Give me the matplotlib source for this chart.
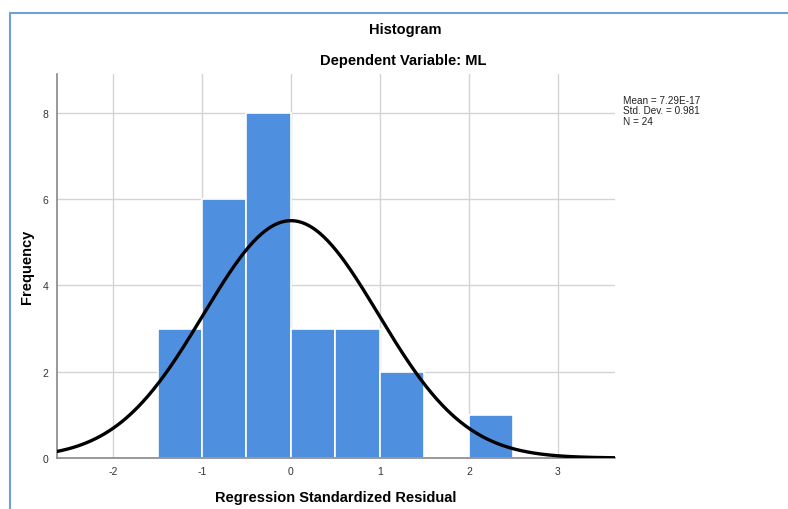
import numpy as np
from matplotlib import pyplot as plt
from matplotlib.patches import Rectangle

# bins of the standardized residuals and their counts
bin_edges = [-1.5, -1.0, -0.5, 0.0, 0.5, 1.0, 1.5, 2.0, 2.5]
counts = [3, 6, 8, 3, 3, 2, 0, 1]

mean = 7.29e-17
std_dev = 0.981
n = 24
curve_peak = 5.5  # height of the normal curve

x_ticks = [-2, -1, 0, 1, 2, 3]
y_ticks = [0, 2, 4, 6, 8]

plt.rcParams['font.family'] = ['Liberation Sans', 'DejaVu Sans']

fig = plt.figure(figsize=(7.88, 5.10), dpi=100)
ax = fig.add_axes([0.0723, 0.1, 0.708, 0.753])

# histogram bars
lefts = bin_edges[:-1]
widths = np.diff(bin_edges)
ax.bar(lefts, counts, width=widths, align='edge', color='#4f8fe0',
       edgecolor='white', linewidth=1.2, zorder=2)

# normal curve
xs = np.linspace(-2.65, 3.65, 400)
ys = curve_peak * np.exp(-0.5 * ((xs - mean) / std_dev) ** 2)
ax.plot(xs, ys, color='black', linewidth=2.4, zorder=3)

ax.set_xlim(-2.63, 3.64)
ax.set_ylim(0, 8.9)
ax.set_xticks(x_ticks)
ax.set_yticks(y_ticks)
ax.set_xticklabels([str(t) for t in x_ticks])
ax.grid(True, color='#d4d4d4', linewidth=1, zorder=0)
ax.set_axisbelow(True)
ax.tick_params(axis='both', length=0, labelsize=7.5, colors='#333333', pad=6)
for side in ['top', 'right']:
    ax.spines[side].set_visible(False)
for side in ['left', 'bottom']:
    ax.spines[side].set_color('#888888')
    ax.spines[side].set_linewidth(1.2)

ax.set_xlabel('Regression Standardized Residual', fontsize=10.5,
              fontweight='bold', labelpad=10)
ax.set_ylabel('Frequency', fontsize=10.5, fontweight='bold', labelpad=6)

# titles
fig.text(0.514, 0.942, 'Histogram', ha='center', va='center',
         fontsize=10.5, fontweight='bold')
fig.text(0.512, 0.880, 'Dependent Variable: ML', ha='center', va='center',
         fontsize=10.5, fontweight='bold')

# stats box
fig.text(0.79, 0.812, 'Mean = 7.29E-17\nStd. Dev. = 0.981\nN = %d' % n,
         ha='left', va='top', fontsize=7.2, linespacing=1.05, color='#222222')

# blue frame of the screenshot
fig.patches.append(Rectangle((0.013, -0.05), 1.2, 0.022 + 1.0, transform=fig.transFigure,
                             fill=False, edgecolor='#6f9fdc', linewidth=1.5))

plt.savefig('out.png', dpi=100)
